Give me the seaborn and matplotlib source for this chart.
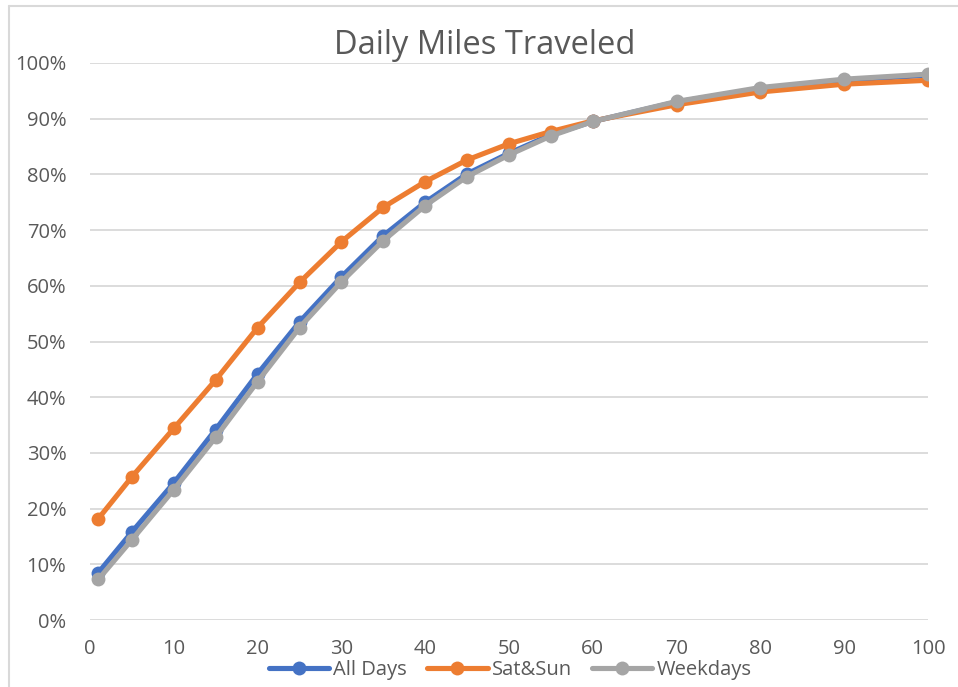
import matplotlib
matplotlib.use("Agg")
import matplotlib.pyplot as plt
from matplotlib.lines import Line2D
from matplotlib.ticker import PercentFormatter, MultipleLocator
import seaborn as sns
import pandas as pd

# Daily miles (x) and cumulative share of trips (%)
miles = [1, 5, 10, 15, 20, 25, 30, 35, 40, 45, 50, 55, 60, 70, 80, 90, 100]
all_days = [8.5, 15.8, 24.6, 34.2, 44.2, 53.5, 61.6, 69.0, 75.0, 80.1, 83.8, 87.1, 89.5, 93.0, 95.4, 96.9, 97.8]
sat_sun = [18.2, 25.7, 34.4, 43.1, 52.5, 60.6, 67.9, 74.1, 78.7, 82.6, 85.5, 87.7, 89.6, 92.5, 94.8, 96.2, 96.9]
weekdays = [7.3, 14.4, 23.4, 32.8, 42.8, 52.5, 60.7, 68.1, 74.4, 79.6, 83.5, 86.9, 89.5, 93.1, 95.6, 97.1, 98.0]
series_names = ["All Days", "Sat&Sun", "Weekdays"]
colors = ["#4472C4", "#ED7D31", "#A5A5A5"]

df = pd.concat([
    pd.DataFrame({"miles": miles, "share": vals, "series": name})
    for name, vals in zip(series_names, [all_days, sat_sun, weekdays])
], ignore_index=True)

sns.set_theme(style="white")
plt.rcParams["font.family"] = ["Open Sans", "DejaVu Sans"]
text_color = "#595959"
grid_color = "#D9D9D9"
lw = 3.7
ms = 10

fig = plt.figure(figsize=(9.58, 6.87), dpi=100)
ax = fig.add_axes([90 / 958, 1 - 620 / 687, (928 - 90) / 958, (620 - 63) / 687])

sns.lineplot(data=df, x="miles", y="share", hue="series", hue_order=series_names,
             palette=colors, marker="o", markersize=ms, markeredgewidth=0,
             linewidth=lw, ax=ax, legend=False)

ax.set_xlim(0, 100)
ax.set_ylim(0, 100)
ax.xaxis.set_major_locator(MultipleLocator(10))
ax.yaxis.set_major_locator(MultipleLocator(10))
ax.yaxis.set_major_formatter(PercentFormatter(100, decimals=0))
ax.set_xlabel("")
ax.set_ylabel("")
ax.grid(axis="y", color=grid_color, linewidth=1.3)
ax.grid(axis="x", visible=False)
ax.set_axisbelow(True)
for s in ax.spines.values():
    s.set_visible(False)
ax.tick_params(axis="both", length=0, labelsize=14.5, labelcolor=text_color)
ax.tick_params(axis="y", pad=17)
ax.tick_params(axis="x", pad=14)

fig.text(485 / 958, 1 - 45 / 687, "Daily Miles Traveled", ha="center", va="center",
         fontsize=23.5, color=text_color)

handles = [Line2D([0], [0], color=c, linewidth=lw, marker="o", markersize=ms,
                  markeredgewidth=0) for c in colors]
fig.legend(handles, series_names, loc="center", bbox_to_anchor=(510 / 958, 1 - 670 / 687),
           ncol=3, frameon=False, fontsize=14.5, labelcolor=text_color,
           handlelength=3.0, handletextpad=0.2, columnspacing=1.0, borderaxespad=0)

# chart area border (left and top edges)
fig.add_artist(Line2D([8.5 / 958, 8.5 / 958], [0, 1 - 5.5 / 687], transform=fig.transFigure,
                      color=grid_color, linewidth=1.5))
fig.add_artist(Line2D([8.5 / 958, 1], [1 - 5.5 / 687, 1 - 5.5 / 687], transform=fig.transFigure,
                      color=grid_color, linewidth=1.5))

fig.savefig("out.png", dpi=100)
